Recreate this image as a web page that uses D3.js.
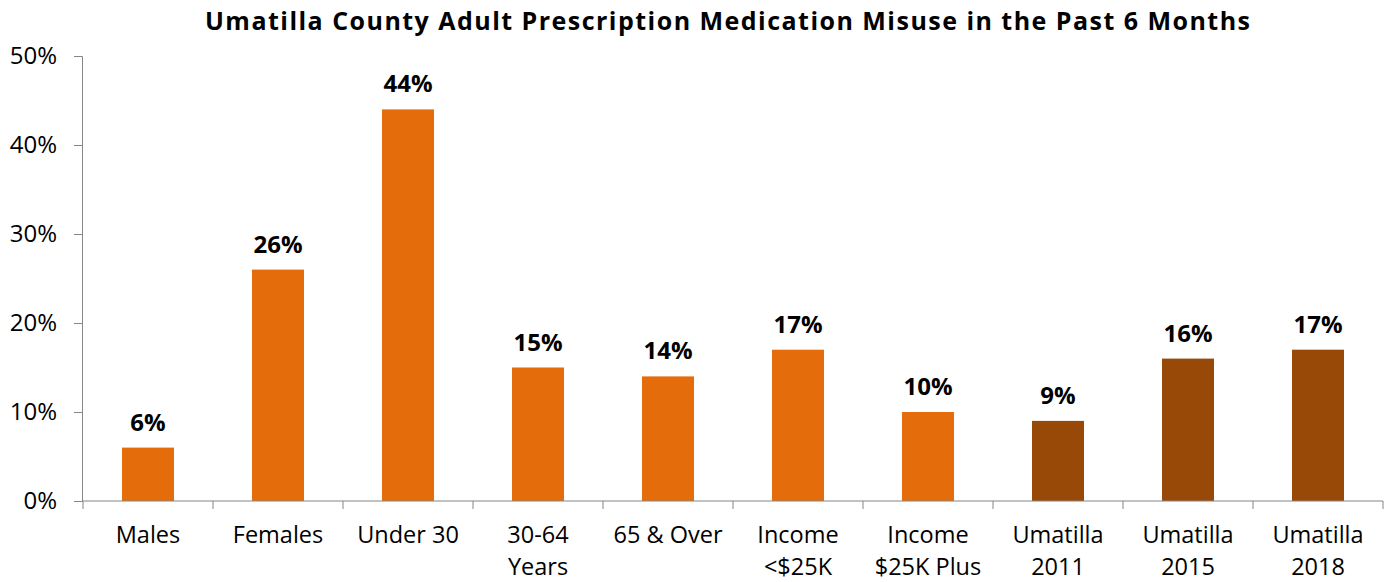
<!DOCTYPE html>
<html>
<head>
<meta charset="utf-8">
<script src="https://cdn.jsdelivr.net/npm/d3@7"></script>
<style>
body{margin:0;background:#fff;}
svg{display:block;}
text{font-family:"Open Sans","Noto Sans",sans-serif;}
</style>
</head>
<body>
<svg id="chart" width="1388" height="582"></svg>
<script>
const categories = [["Males"],["Females"],["Under 30"],["30-64","Years"],["65 & Over"],["Income","<$25K"],["Income","$25K Plus"],["Umatilla","2011"],["Umatilla","2015"],["Umatilla","2018"]];
const values = [6,26,44,15,14,17,10,9,16,17];
const groups = ["sub","sub","sub","sub","sub","sub","sub","year","year","year"];
const yTicks = [0,10,20,30,40,50];
const title = "Umatilla County Adult Prescription Medication Misuse in the Past 6 Months";

const svg = d3.select("#chart");
const x = d3.scaleBand().domain(d3.range(values.length)).range([83,1383]).paddingInner(0.6).paddingOuter(0.3);
const y = d3.scaleLinear().domain([0,50]).range([501,56]);
const color = d3.scaleOrdinal().domain(["sub","year"]).range(["#E46C0A","#984807"]);

svg.append("text").attr("x",727.5).attr("y",30).attr("text-anchor","middle")
  .attr("font-size",25).attr("font-weight","bold").attr("fill","#000")
  .attr("textLength",1045).attr("lengthAdjust","spacing").text(title);

// y axis
const yAxis = svg.append("g").attr("transform","translate(82,0)")
  .call(d3.axisLeft(y).tickValues(yTicks).tickFormat(d=>d+"%").tickSize(8).tickPadding(17));
yAxis.select(".domain").attr("stroke","#868686");
yAxis.selectAll(".tick line").attr("stroke","#868686");
yAxis.selectAll("text").attr("font-size",24).attr("fill","#000").attr("font-family","'Open Sans',sans-serif");

// bars
svg.selectAll("rect.bar").data(values).join("rect").attr("class","bar")
  .attr("x",(d,i)=>x(i)).attr("width",x.bandwidth())
  .attr("y",d=>y(d)).attr("height",d=>y(0)-y(d))
  .attr("fill",(d,i)=>color(groups[i]));

// value labels
svg.selectAll("text.val").data(values).join("text").attr("class","val")
  .attr("x",(d,i)=>x(i)+x.bandwidth()/2).attr("y",d=>y(d)-17)
  .attr("text-anchor","middle").attr("font-size",24).attr("font-weight","bold").attr("fill","#000")
  .text(d=>d+"%");

// x axis
const step = x.step();
const boundaries = d3.range(values.length+1).map(i=>83+i*step);
const xg = svg.append("g");
xg.append("line").attr("x1",82).attr("x2",1383).attr("y1",501).attr("y2",501).attr("stroke","#868686");
xg.selectAll("line.tk").data(boundaries).join("line").attr("class","tk")
  .attr("x1",d=>d).attr("x2",d=>d).attr("y1",501).attr("y2",509).attr("stroke","#868686");
categories.forEach((lines,i)=>{
  const t = xg.append("text").attr("text-anchor","middle").attr("font-size",23.5).attr("fill","#000")
    .attr("x",x(i)+x.bandwidth()/2).attr("y",543);
  lines.forEach((l,j)=>t.append("tspan").attr("x",x(i)+x.bandwidth()/2).attr("dy",j===0?0:32).text(l));
});
</script>
</body>
</html>
